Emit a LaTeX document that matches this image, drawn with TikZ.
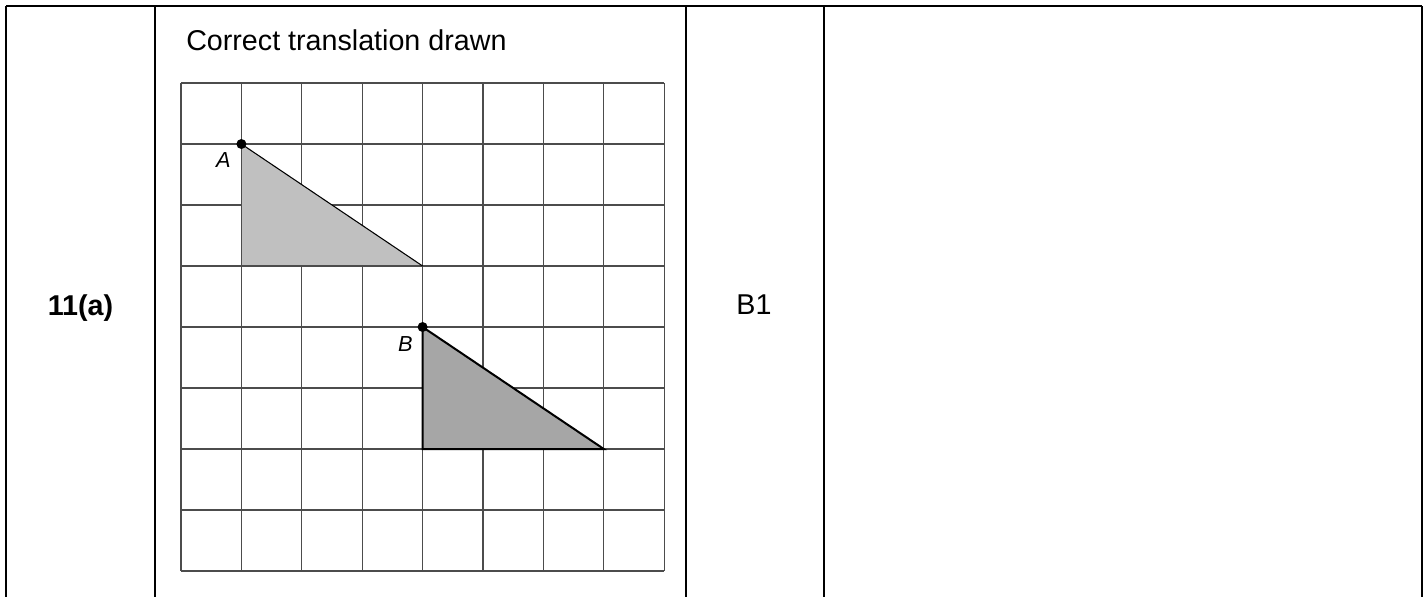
\documentclass[tikz,border=0pt]{standalone}
\usepackage{fontspec}
\setmainfont{Liberation Sans}
\begin{document}
\begin{tikzpicture}[x=0.75pt,y=-0.75pt,
  tableline/.style={line width=1.5pt,black},
  gridline/.style={line width=0.8pt,black!70},
  maintext/.style={font=\fontsize{21.5pt}{24pt}\selectfont,inner sep=0pt},
  ptlabel/.style={font=\fontsize{16.3pt}{19pt}\selectfont\itshape,inner sep=0pt},
  ptdot/.style={circle,fill=black,inner sep=0pt,minimum size=7.5pt}]
\useasboundingbox (0,0) rectangle (1427,597);
% table
\draw[tableline] (6,6) -- (1422,6);
\foreach \x in {6,155,686,824,1422} \draw[tableline] (\x,6) -- (\x,597);
% texts
\node[maintext,anchor=base,font=\fontsize{21.5pt}{24pt}\selectfont\bfseries] (q) at (80.5,315) {11(a)};
\node[maintext,anchor=base] (mark) at (754,314) {B1};
\node[maintext,anchor=base west] (title) at (186,50) {Correct translation drawn};
% grid
\def\gx{181} \def\gdx{60.4} \def\gy{83} \def\gdy{61}
\foreach \i in {0,...,8} {
  \draw[gridline] ({\gx+\i*\gdx},\gy) -- ({\gx+\i*\gdx},{\gy+8*\gdy});
  \draw[gridline] (\gx,{\gy+\i*\gdy}) -- ({\gx+8*\gdx},{\gy+\i*\gdy});
}
% triangle A
\coordinate (A) at ({\gx+1*\gdx},{\gy+1*\gdy});
\coordinate (A2) at ({\gx+1*\gdx},{\gy+3*\gdy});
\coordinate (A3) at ({\gx+4*\gdx},{\gy+3*\gdy});
\fill[fill={rgb,255:red,192;green,192;blue,192}] (A) -- (A2) -- (A3) -- cycle;
\draw[gridline] (A) -- (A2) -- (A3);
\draw[line width=0.8pt,black] (A3) -- (A);
% triangle B
\coordinate (B) at ({\gx+4*\gdx},{\gy+4*\gdy});
\coordinate (B2) at ({\gx+4*\gdx},{\gy+6*\gdy});
\coordinate (B3) at ({\gx+7*\gdx},{\gy+6*\gdy});
\draw[line width=1.5pt,black,fill={rgb,255:red,166;green,166;blue,166},line join=miter] (B) -- (B2) -- (B3) -- cycle;
% points and labels
\node[ptdot] (dotA) at (A) {};
\node[ptdot] (dotB) at (B) {};
\node[ptlabel,anchor=base east] (labA) at (231,167) {A};
\node[ptlabel,anchor=base east] (labB) at (413,351) {B};
\end{tikzpicture}
\end{document}
